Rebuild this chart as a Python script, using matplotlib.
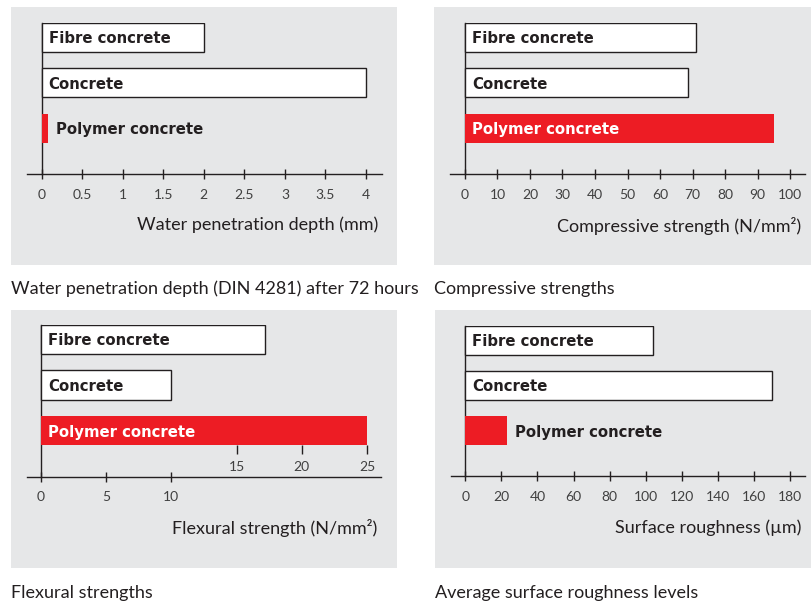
import matplotlib.pyplot as plt
from matplotlib.patches import Rectangle

# Data
categories = ['Fibre concrete', 'Concrete', 'Polymer concrete']
water_depth = [2.0, 4.0, 0.08]
compressive = [71, 68.5, 95]
flexural = [17.2, 10, 25]
roughness = [104, 170, 23]

water_ticks = [0, 0.5, 1, 1.5, 2, 2.5, 3, 3.5, 4]
compressive_ticks = [0, 10, 20, 30, 40, 50, 60, 70, 80, 90, 100]
flexural_ticks_low = [0, 5, 10]
flexural_ticks_high = [15, 20, 25]
roughness_ticks = [0, 20, 40, 60, 80, 100, 120, 140, 160, 180]

xlabels = ['Water penetration depth (mm)', 'Compressive strength (N/mm²)',
           'Flexural strength (N/mm²)', 'Surface roughness (µm)']
captions = ['Water penetration depth (DIN 4281) after 72 hours', 'Compressive strengths',
            'Flexural strengths', 'Average surface roughness levels']

# Style
BG = '#e6e7e8'
RED = '#ed1c24'
INK = '#231f20'
TICK_INK = '#404040'
W, H = 812, 602

plt.rcParams['font.family'] = ['Lato', 'DejaVu Sans']

fig = plt.figure(figsize=(W / 100, H / 100), dpi=100)


def fx(x):
    return x / W


def fy(y):
    return 1 - y / H


def add_box(x0, y0, x1, y1):
    fig.patches.append(Rectangle((fx(x0), fy(y1)), fx(x1) - fx(x0), fy(y0) - fy(y1),
                                 transform=fig.transFigure, facecolor=BG, edgecolor='none', zorder=-5))


def make_axes(left, right, top, bottom):
    ax = fig.add_axes([fx(left), fy(bottom), fx(right) - fx(left), fy(top) - fy(bottom)])
    ax.patch.set_alpha(0)
    for s in ['top', 'right']:
        ax.spines[s].set_visible(False)
    ax.spines['left'].set_position(('data', 0))
    for s in ['left', 'bottom']:
        ax.spines[s].set_color(INK)
        ax.spines[s].set_linewidth(1.0)
    ax.set_yticks([])
    ax.set_ylim(0, 3.31)
    ax.tick_params(axis='x', direction='inout', length=7.5, width=1.0, color=INK,
                   labelsize=10, labelcolor=TICK_INK, pad=7)
    return ax


def draw_bars(ax, values, polymer_inside):
    ypos = [3, 2, 1]
    colors = ['white', 'white', RED]
    edges = [INK, INK, 'none']
    ax.barh(ypos, values, height=0.64, color=colors, edgecolor=edges, linewidth=1.0, zorder=3)
    for i, (name, v) in enumerate(zip(categories, values)):
        kw = dict(textcoords='offset points', ha='left', va='center', fontsize=10.7,
                  fontweight='bold', family='DejaVu Sans', zorder=4)
        if i < 2:
            ax.annotate(name, (0, ypos[i]), xytext=(5, -1), color=INK, **kw)
        elif polymer_inside:
            ax.annotate(name, (0, ypos[i]), xytext=(5, -1), color='white', **kw)
        else:
            ax.annotate(name, (v, ypos[i]), xytext=(6, -1), color=INK, **kw)


def fmt(t):
    return '%g' % t


# Panel 1: water penetration
add_box(11, 7, 397, 265)
ax1 = make_axes(27, 382, 23, 174)
ax1.set_xlim(-0.181, 4.197)
ax1.set_xticks(water_ticks, [fmt(t) for t in water_ticks])
draw_bars(ax1, water_depth, polymer_inside=False)

# Panel 2: compressive strength
add_box(434, 7, 812, 265)
ax2 = make_axes(450, 805, 23, 174)
ax2.set_xlim(-4.6, 104.6)
ax2.set_xticks(compressive_ticks, [fmt(t) for t in compressive_ticks])
draw_bars(ax2, compressive, polymer_inside=True)

# Panel 3: flexural strength
add_box(11, 310, 397, 568)
ax3 = make_axes(27, 381, 325, 476.5)
ax3.set_xlim(-1.07, 26.07)
ax3.set_xticks(flexural_ticks_low, [fmt(t) for t in flexural_ticks_low])
draw_bars(ax3, flexural, polymer_inside=True)
bar_bottom = 1 - 0.32
ax3.vlines(flexural_ticks_high, bar_bottom - 0.18, bar_bottom, color=INK, linewidth=1.0, zorder=2)
for t in flexural_ticks_high:
    ax3.text(t, 0.21, fmt(t), ha='center', va='center', fontsize=10, color=TICK_INK)

# Panel 4: surface roughness
add_box(435, 310, 812, 568)
ax4 = make_axes(450.7, 805, 326, 476)
ax4.set_xlim(-8.1, 188.3)
ax4.set_xticks(roughness_ticks, [fmt(t) for t in roughness_ticks])
draw_bars(ax4, roughness, polymer_inside=False)

# Axis titles (right aligned) and captions
xlabel_pos = [(378, 225), (801, 226), (377, 528), (801, 528)]
caption_pos = [(11, 294), (434, 294), (11, 598), (435, 598)]
for text, (x, y) in zip(xlabels, xlabel_pos):
    fig.text(fx(x), fy(y), text, ha='right', va='center', fontsize=13, color=INK)
for text, (x, y) in zip(captions, caption_pos):
    fig.text(fx(x), fy(y), text, ha='left', va='baseline', fontsize=13, color=INK)

fig.savefig('out.png', dpi=100)
